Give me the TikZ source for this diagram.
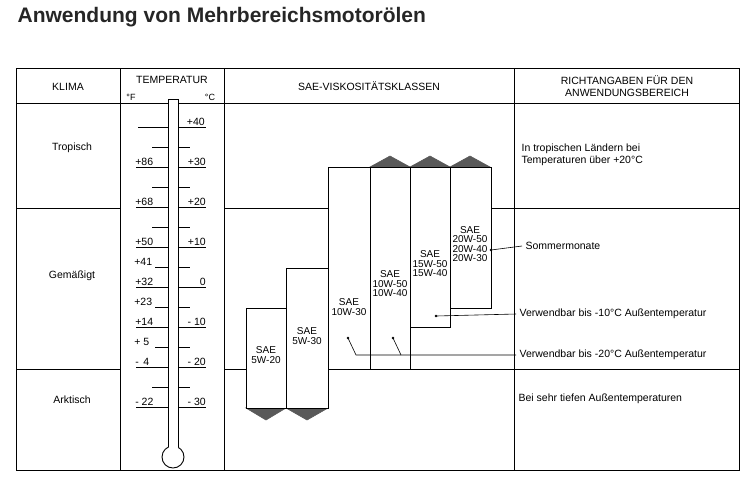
\documentclass[tikz,border=0pt]{standalone}
\usepackage{fontspec}
\setmainfont{Liberation Sans}
\begin{document}
\begin{tikzpicture}[x=1pt,y=-1pt,font=\fontsize{10.5}{12}\selectfont,line width=0.6pt,
    rule/.style={line width=0.9pt},
    oilbar/.style={draw,line width=0.9pt,fill=white},
    barcap/.style={fill=black!65,draw=black!65},
    lbl/.style={inner sep=1pt,align=center,font=\fontsize{10}{9.5}\selectfont}]
  \useasboundingbox (0,0) rectangle (746,488);
  \node[anchor=west,font=\fontsize{21}{22}\bfseries\selectfont,text=black!85] (title) at (14,17) {Anwendung von Mehrbereichsmotorölen};
  % table frame
  \draw[rule] (16,68) rectangle (739,470);
  \draw[rule] (16,103) -- (739,103);
  \foreach \x in {120,224,514} \draw[rule] (\x,68) -- (\x,470);
  \draw[rule] (16,208) -- (120,208) (224,208) -- (329,208) (491,208) -- (739,208);
  \draw[rule] (16,369) -- (120,369) (224,369) -- (246,369) (329,369) -- (739,369);
  % header
  \node (klima) at (68,87) {KLIMA};
  \node (temp) at (172,80) {TEMPERATUR};
  \node[font=\fontsize{9}{9}\selectfont] (degf) at (131,97) {°F};
  \node[font=\fontsize{9}{9}\selectfont] (degc) at (210,97) {°C};
  \node (sae) at (369,86) {SAE-VISKOSITÄTSKLASSEN};
  \node[align=center] (richt) at (627,86) {RICHTANGABEN FÜR DEN\\ANWENDUNGSBEREICH};
  \node (trop) at (72,148) {Tropisch};
  \node (gem) at (72,276) {Gemäßigt};
  \node (ark) at (72,400) {Arktisch};
  % thermometer
  \draw[rule] (173,457) circle (11);
  \fill[white] (168.5,99.5) rectangle (177.5,450);
  \draw[rule] (168,447.2) -- (168,99) -- (178,99) -- (178,447.2);
  \foreach \t in {35,25,15,-25} {
    \draw (152,287-4*\t) -- (168,287-4*\t);
    \draw (178,287-4*\t) -- (190,287-4*\t);
  }
  \draw (138,127) -- (168,127) (178,127) -- (206,127);
  \node[anchor=south east,inner sep=1pt] (c40) at (206,127) {+40};
  \foreach \t/\f in {30/+86,20/+68,10/+50,0/+32,-10/+14,-20/{-\ \,4},-30/-\ 22} {
    \draw (136,287-4*\t) -- (168,287-4*\t);
    \draw (178,287-4*\t) -- (206,287-4*\t);
    \node[anchor=south west,inner sep=1pt] at (134,287-4*\t) {\f};
  }
  \foreach \t/\c in {30/+30,20/+20,10/+10,0/0,-10/- 10,-20/- 20,-30/- 30}
    \node[anchor=south east,inner sep=1pt] at (207,287-4*\t) {\c};
  \foreach \t/\f in {5/+41,-5/+23,-15/+ 5} {
    \node[anchor=south west,inner sep=1pt] at (133,287-4*\t) {\f};
    \draw (155,287-4*\t) -- (168,287-4*\t);
    \draw (178,287-4*\t) -- (190,287-4*\t);
  }
  % oil bars
  \fill[barcap] (246,408) -- (286,408) -- (266,420) -- cycle;
  \fill[barcap] (286,408) -- (328,408) -- (307,420) -- cycle;
  \foreach \x in {370,410,450} \fill[barcap] (\x,167) -- (\x+40,167) -- (\x+20,156) -- cycle;
  \draw[oilbar] (246,308) rectangle (286,408);
  \draw[oilbar] (286,268) rectangle (328,408);
  \draw[oilbar] (328,167) rectangle (370,369);
  \draw[oilbar] (370,167) rectangle (410,369);
  \draw[oilbar] (410,167) rectangle (450,327);
  \draw[oilbar] (450,167) rectangle (491,308);
  \node[lbl] (s520) at (266,355) {SAE\\5W-20};
  \node[lbl] (s530) at (307,336) {SAE\\5W-30};
  \node[lbl] (s1030) at (349,307) {SAE\\10W-30};
  \node[lbl] (s1050) at (390,284) {SAE\\10W-50\\10W-40};
  \node[lbl] (s1550) at (430,264) {SAE\\15W-50\\15W-40};
  \node[lbl] (s2050) at (470,244) {SAE\\20W-50\\20W-40\\20W-30};
  % notes
  \node[anchor=west,align=left] (ntrop) at (518,155) {In tropischen Ländern bei\\Temperaturen über +20°C};
  \node[anchor=west] (nsom) at (522,246) {Sommermonate};
  \node[anchor=west] (n10) at (516,314) {Verwendbar bis -10°C Außentemperatur};
  \node[anchor=west] (n20) at (516,355) {Verwendbar bis -20°C Außentemperatur};
  \node[anchor=west] (nark) at (515,399) {Bei sehr tiefen Außentemperaturen};
  % leader lines
  \coordinate (d1) at (436,316);
  \coordinate (d2) at (348,338);
  \coordinate (d3) at (393,338);
  \coordinate (k2) at (356,355);
  \coordinate (k3) at (401,355);
  \fill (491,250) circle (1.3) (d1) circle (1.3) (d2) circle (1.3) (d3) circle (1.3);
  \draw (491,250) -- (nsom.west);
  \draw (d1) -- (n10.west);
  \draw (d2) -- (k2) -- (n20.west);
  \draw (d3) -- (k3);
\end{tikzpicture}
\end{document}
